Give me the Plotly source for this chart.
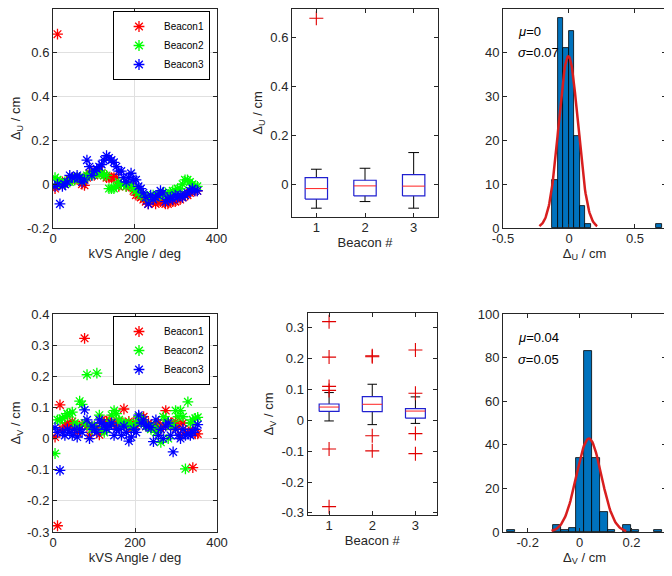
import numpy as np
import plotly.graph_objects as go

# kVS angle of each measurement (deg)
angle = [5, 11, 17, 23, 29, 35, 41, 47, 53, 59, 65, 71, 77, 83, 89, 95, 101, 107, 113, 119,
         125, 131, 137, 143, 149, 155, 161, 167, 173, 179, 185, 191, 197, 203, 209, 215, 221, 227, 233, 239,
         245, 251, 257, 263, 269, 275, 281, 287, 293, 299, 305, 311, 317, 323, 329, 335, 341, 347, 353]

# delta U (cm) per beacon
du_b1 = [-0.02, 0.685, 0.0, 0.01, 0.0, 0.01, 0.02, 0.03, 0.02, 0.03, 0.02, 0.0, -0.005, 0.03, 0.05, 0.06, 0.04, 0.05, 0.06, 0.05,
         0.04, 0.03, 0.03, 0.03, 0.03, 0.03, -0.01, 0.0, 0.0, -0.01, 0.0, -0.01, -0.03, -0.05, -0.05, -0.06, -0.07, -0.08, -0.09, -0.08,
         -0.08, -0.09, -0.08, -0.08, -0.08, -0.09, -0.09, -0.08, -0.08, -0.08, -0.07, -0.07, -0.06, -0.05, -0.05, -0.04, -0.03, -0.03, -0.03]
du_b2 = [0.03, 0.02, 0.01, 0.0, 0.01, 0.01, 0.01, 0.02, 0.02, 0.03, 0.03, 0.02, 0.03, 0.04, 0.04, 0.04, 0.05, 0.05, 0.05, 0.05,
         0.04, 0.04, -0.02, -0.02, -0.02, -0.01, 0.01, 0.0, 0.0, -0.01, 0.0, 0.0, -0.02, -0.03, -0.04, -0.05, -0.05, -0.06, -0.06, -0.06,
         -0.05, -0.06, -0.05, -0.05, -0.04, -0.04, -0.05, -0.04, -0.03, -0.03, -0.02, -0.02, 0.0, 0.02, 0.02, 0.01, 0.0, -0.01, -0.01]
du_b3 = [-0.01, 0.0, -0.09, -0.01, 0.0, 0.01, 0.04, 0.03, 0.03, 0.04, 0.03, 0.01, 0.02, 0.11, 0.08, 0.04, 0.06, 0.07, 0.08, 0.09,
         0.11, 0.13, 0.12, 0.11, 0.10, 0.08, 0.06, 0.06, 0.03, 0.01, 0.03, 0.05, 0.02, 0.02, -0.01, -0.02, -0.04, -0.06, -0.09, -0.05,
         -0.07, -0.06, -0.05, -0.03, -0.04, -0.08, -0.07, -0.06, -0.07, -0.05, -0.06, -0.05, -0.06, -0.05, -0.04, -0.03, -0.02, -0.03, -0.03]

# delta V (cm) per beacon
dv_b1 = [0.005, -0.28, 0.108, 0.03, 0.04, 0.05, 0.04, 0.055, 0.03, 0.02, 0.04, 0.045, 0.322, 0.04, 0.01, 0.03, 0.04, 0.035, 0.012, 0.06,
         0.05, 0.055, 0.06, 0.045, 0.05, 0.04, 0.055, 0.05, 0.095, 0.04, 0.055, 0.03, 0.05, 0.04, 0.07, 0.065, 0.07, 0.04, 0.05, 0.04,
         0.035, 0.04, 0.05, 0.03, 0.04, 0.09, 0.055, 0.05, 0.04, 0.055, 0.04, 0.01, 0.05, 0.02, 0.207, 0.03, -0.093, 0.015, 0.015]
dv_b2 = [-0.048, 0.06, 0.06, 0.065, 0.07, 0.08, 0.08, 0.085, 0.05, 0.04, 0.12, 0.11, 0.05, 0.205, 0.04, 0.03, 0.04, 0.21, 0.075, 0.03,
         0.02, 0.03, 0.05, 0.075, 0.09, 0.08, 0.06, 0.05, 0.05, 0.04, 0.05, 0.04, 0.03, 0.05, 0.07, 0.06, 0.05, 0.04, 0.04, 0.03,
         0.04, 0.02, 0.03, -0.012, 0.07, 0.06, 0.0, 0.04, 0.045, 0.09, 0.07, 0.09, 0.07, -0.097, 0.118, 0.05, 0.06, 0.065, 0.068]
dv_b3 = [0.035, 0.02, -0.102, 0.02, 0.01, 0.03, 0.02, 0.01, 0.03, 0.005, 0.03, 0.02, 0.092, 0.06, 0.0, 0.04, 0.03, 0.02, 0.06, 0.05,
         0.04, 0.03, 0.04, 0.05, 0.01, 0.03, 0.03, 0.01, 0.04, 0.02, -0.008, 0.005, 0.03, 0.02, 0.075, 0.05, 0.06, 0.04, 0.04, 0.035,
         -0.01, 0.06, 0.01, 0.03, 0.0, 0.04, 0.05, 0.01, -0.043, 0.03, 0.01, 0.0, 0.03, 0.01, 0.015, 0.01, 0.02, 0.03, 0.045]

# boxplot statistics per beacon (1, 2, 3)
beacon = [1, 2, 3]
u_q1 = [-0.058, -0.045, -0.045]
u_med = [-0.015, -0.004, -0.005]
u_q3 = [0.030, 0.019, 0.042]
u_lo = [-0.095, -0.068, -0.095]
u_hi = [0.064, 0.068, 0.132]
u_out = [[0.68], [], []]

v_q1 = [0.029, 0.028, 0.007]
v_med = [0.043, 0.052, 0.030]
v_q3 = [0.053, 0.077, 0.038]
v_lo = [-0.002, -0.014, -0.010]
v_hi = [0.090, 0.117, 0.076]
v_out = [[0.32, 0.205, 0.11, 0.097, -0.093, -0.28], [0.206, 0.209, -0.05, -0.099], [0.228, 0.088, -0.043, -0.108]]

# histogram bins (centers, counts) and fit parameters
hu_center = [-0.105, -0.0635, -0.022, 0.0195, 0.061, 0.1025, 0.144, 0.683]
hu_count = [11, 48, 41, 45, 21, 5, 1, 1]
hu_width = 0.0415
hu_mu, hu_sigma = -0.005, 0.073

hv_center = [-0.264, -0.087, -0.057, -0.027, 0.003, 0.033, 0.063, 0.093, 0.123, 0.183, 0.213, 0.302]
hv_count = [1, 3, 1, 2, 34, 83, 34, 9, 1, 3, 1, 1]
hv_width = 0.0298
hv_mu, hv_sigma = 0.036, 0.048

beacon_names = ['Beacon1', 'Beacon2', 'Beacon3']
beacon_colors = ['#ff0000', '#00ff00', '#0000ff']

FONT = 'Liberation Sans, Arial, sans-serif'
INK = '#262626'
# the page body keeps its 8px margin, so the figure is 8px smaller than the window
OFF = 8
W, H = 672 - OFF, 576 - OFF

fig = go.Figure()


def dom_x(a, b):
    return [(a - OFF) / W, (b - OFF) / W]


def dom_y(top, bottom):
    return [1 - (bottom - OFF) / H, 1 - (top - OFF) / H]


def axis(domain, rng, tickvals, ticktext, anchor, title=None, grid=False, standoff=0, lstand=0):
    return dict(domain=domain, range=rng, tickvals=tickvals, ticktext=ticktext, anchor=anchor,
                automargin=False,
                showgrid=grid, gridcolor='#e0e0e0', gridwidth=1, zeroline=False,
                showline=True, linecolor=INK, linewidth=1, mirror='ticks',
                ticks='inside', ticklen=4, tickcolor=INK, ticklabelstandoff=lstand,
                tickfont=dict(size=13, color=INK, family=FONT),
                title=dict(text=title, font=dict(size=13, color=INK, family=FONT), standoff=standoff))


def xax(domain, rng, tickvals, ticktext, anchor, title=None, grid=False):
    return axis(domain, rng, tickvals, ticktext, anchor, title, grid, standoff=0, lstand=-2)


def yax(domain, rng, tickvals, ticktext, anchor, title=None, grid=False):
    return axis(domain, rng, tickvals, ticktext, anchor, title, grid, standoff=4, lstand=0)


# scatter plots
for i in range(3):
    fig.add_trace(go.Scatter(x=angle, y=[du_b1, du_b2, du_b3][i], mode='markers', name=beacon_names[i],
                             xaxis='x', yaxis='y', legend='legend',
                             marker=dict(symbol='asterisk', size=9, color=beacon_colors[i],
                                         line=dict(color=beacon_colors[i], width=1.3))))
for i in range(3):
    fig.add_trace(go.Scatter(x=angle, y=[dv_b1, dv_b2, dv_b3][i], mode='markers', name=beacon_names[i],
                             xaxis='x4', yaxis='y4', legend='legend2',
                             marker=dict(symbol='asterisk', size=9, color=beacon_colors[i],
                                         line=dict(color=beacon_colors[i], width=1.3))))


# box plots
def add_boxes(xa, ya, q1, med, q3, lo, hi, out, hw=0.23, cw=0.11):
    for i, b in enumerate(beacon):
        fig.add_trace(go.Scatter(x=[b, b, None, b, b], y=[q3[i], hi[i], None, q1[i], lo[i]], mode='lines',
                                 line=dict(color='black', width=1), xaxis=xa, yaxis=ya, showlegend=False))
        fig.add_trace(go.Scatter(x=[b - cw, b + cw, None, b - cw, b + cw], y=[hi[i], hi[i], None, lo[i], lo[i]],
                                 mode='lines', line=dict(color='black', width=1), xaxis=xa, yaxis=ya, showlegend=False))
        fig.add_trace(go.Scatter(x=[b - hw, b + hw, b + hw, b - hw, b - hw], y=[q1[i], q1[i], q3[i], q3[i], q1[i]],
                                 mode='lines', line=dict(color='#2020d0', width=1.2), xaxis=xa, yaxis=ya, showlegend=False))
        fig.add_trace(go.Scatter(x=[b - hw, b + hw], y=[med[i], med[i]], mode='lines',
                                 line=dict(color='#ff2020', width=1), xaxis=xa, yaxis=ya, showlegend=False))
        if out[i]:
            fig.add_trace(go.Scatter(x=[b] * len(out[i]), y=out[i], mode='markers', xaxis=xa, yaxis=ya, showlegend=False,
                                     marker=dict(symbol='cross-thin', size=10, color='#e00000',
                                                 line=dict(color='#e00000', width=1.1))))


add_boxes('x2', 'y2', u_q1, u_med, u_q3, u_lo, u_hi, u_out)
add_boxes('x5', 'y5', v_q1, v_med, v_q3, v_lo, v_hi, v_out)


# histograms with normal fit
def add_hist(xa, ya, centers, counts, width, mu, sigma):
    fig.add_trace(go.Bar(x=centers, y=counts, width=width, xaxis=xa, yaxis=ya, showlegend=False,
                         marker=dict(color='#0072bd', line=dict(color='black', width=0.8))))
    n = sum(counts)
    xs = np.linspace(mu - 3 * sigma, mu + 3 * sigma, 100)
    ys = n * width * np.exp(-0.5 * ((xs - mu) / sigma) ** 2) / (sigma * np.sqrt(2 * np.pi))
    fig.add_trace(go.Scatter(x=xs, y=ys, mode='lines', xaxis=xa, yaxis=ya, showlegend=False,
                             line=dict(color='#d81e1e', width=2.5)))


add_hist('x3', 'y3', hu_center, hu_count, hu_width, hu_mu, hu_sigma)
add_hist('x6', 'y6', hv_center, hv_count, hv_width, hv_mu, hv_sigma)

du_title = '\u0394<sub>U</sub> / cm'
dv_title = '\u0394<sub>V</sub> / cm'

legend_style = dict(xanchor='left', yanchor='top', bgcolor='white', bordercolor='black', borderwidth=1,
                    font=dict(size=10, color='black', family=FONT), itemwidth=40, tracegroupgap=0)

fig.update_layout(
    width=W, height=H, margin=dict(l=0, r=0, t=0, b=0),
    plot_bgcolor='white', paper_bgcolor='white', bargap=0,
    font=dict(family=FONT, size=13, color=INK),
    xaxis=xax(dom_x(53, 216.5), [0, 400], [0, 200, 400], ['0', '200', '400'], 'y', 'kVS Angle / deg', grid=True),
    yaxis=yax(dom_y(9, 228), [-0.2, 0.8], [-0.2, 0, 0.2, 0.4, 0.6, 0.8],
              ['-0.2', '0', '0.2', '0.4', '0.6', '0.8'], 'x', du_title, grid=True),
    xaxis2=xax(dom_x(292, 438), [0.5, 3.5], beacon, ['1', '2', '3'], 'y2', 'Beacon #'),
    yaxis2=yax(dom_y(9, 217), [-0.131, 0.718], [0, 0.2, 0.4, 0.6], ['0', '0.2', '0.4', '0.6'], 'x2', du_title),
    xaxis3=xax(dom_x(503, 666), [-0.5, 0.735], [-0.5, 0, 0.5], ['-0.5', '0', '0.5'], 'y3', du_title),
    yaxis3=yax(dom_y(9, 228), [0, 50], [0, 10, 20, 30, 40, 50], ['0', '10', '20', '30', '40', '50'], 'x3'),
    xaxis4=xax(dom_x(53, 217), [0, 400], [0, 200, 400], ['0', '200', '400'], 'y4', 'kVS Angle / deg', grid=True),
    yaxis4=yax(dom_y(314, 532), [-0.3, 0.4], [-0.3, -0.2, -0.1, 0, 0.1, 0.2, 0.3, 0.4],
               ['-0.3', '-0.2', '-0.1', '0', '0.1', '0.2', '0.3', '0.4'], 'x4', dv_title, grid=True),
    xaxis5=xax(dom_x(307.5, 437), [0.5, 3.5], beacon, ['1', '2', '3'], 'y5', 'Beacon #'),
    yaxis5=yax(dom_y(313, 515), [-0.307, 0.348], [-0.3, -0.2, -0.1, 0, 0.1, 0.2, 0.3],
               ['-0.3', '-0.2', '-0.1', '0', '0.1', '0.2', '0.3'], 'x5', dv_title),
    xaxis6=xax(dom_x(503, 666), [-0.295, 0.333], [-0.2, 0, 0.2], ['-0.2', '0', '0.2'], 'y6', dv_title),
    yaxis6=yax(dom_y(314, 532), [0, 100], [0, 20, 40, 60, 80, 100], ['0', '20', '40', '60', '80', '100'], 'x6'),
    legend=dict(x=(113 - OFF) / W, y=1 - (11 - OFF) / H, **legend_style),
    legend2=dict(x=(113 - OFF) / W, y=1 - (316 - OFF) / H, **legend_style),
)

stats = [(32, '<i>\u03bc</i>=0'), (53, '<i>\u03c3</i>=0.07'), (337, '<i>\u03bc</i>=0.04'), (359, '<i>\u03c3</i>=0.05')]
for ypx, txt in stats:
    fig.add_annotation(x=(516 - OFF) / W, y=1 - (ypx - OFF) / H, xref='paper', yref='paper',
                       xanchor='left', yanchor='middle',
                       text=txt, showarrow=False, font=dict(size=13, color='black', family=FONT))

fig.write_html("out.html")
